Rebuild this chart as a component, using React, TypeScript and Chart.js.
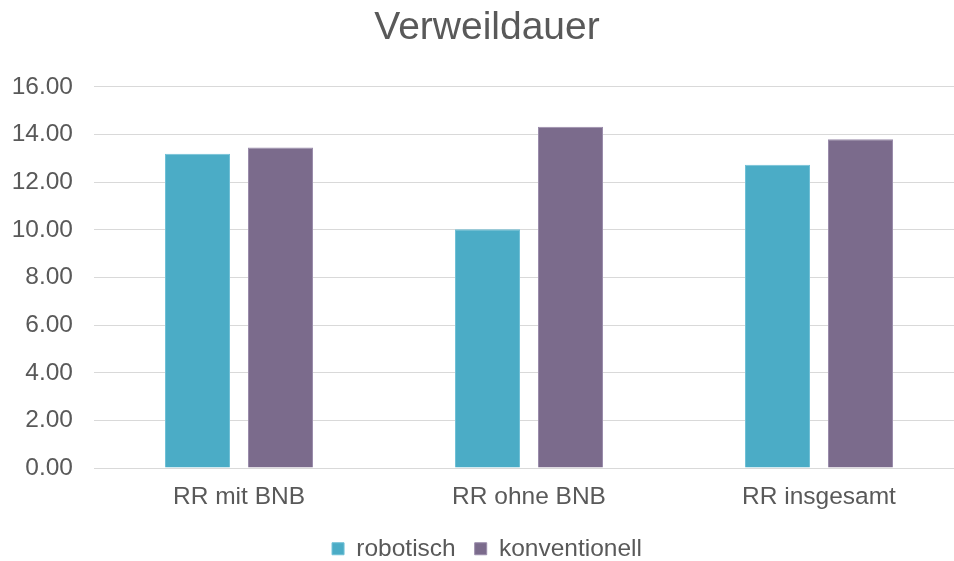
import React, { useEffect, useRef } from "react";
import { Chart, registerables } from "chart.js";

Chart.register(...registerables);

const categories = ["RR mit BNB", "RR ohne BNB", "RR insgesamt"];
const robotisch = [13.19, 10.02, 12.73];
const konventionell = [13.45, 14.32, 13.8];
const seriesNames = ["robotisch", "konventionell"];
const titleText = "Verweildauer";

const FONT = "'Liberation Sans', Arial, sans-serif";
const TEXT = "#595959";

export default function App() {
  const ref = useRef<HTMLCanvasElement | null>(null);

  useEffect(() => {
    document.body.style.margin = "0";
    const ctx = ref.current!.getContext("2d")!;
    const chart = new Chart(ctx, {
      type: "bar",
      data: {
        labels: categories,
        datasets: [
          {
            label: seriesNames[0],
            data: robotisch,
            backgroundColor: "#4bacc6",
            borderColor: "#6fc0d6",
            borderWidth: 1,
            categoryPercentage: 0.5724,
            barPercentage: 0.783,
          },
          {
            label: seriesNames[1],
            data: konventionell,
            backgroundColor: "#7b6b8c",
            borderColor: "#9a8cab",
            borderWidth: 1,
            categoryPercentage: 0.5724,
            barPercentage: 0.783,
          },
        ],
      },
      options: {
        responsive: false,
        animation: false,
        layout: { padding: { left: 10, right: 30, top: 0, bottom: -10 } },
        plugins: {
          title: {
            display: true,
            text: titleText,
            color: TEXT,
            font: { family: FONT, size: 39, weight: "normal" },
            padding: { top: 5, bottom: 35 },
          },
          legend: {
            position: "bottom",
            labels: {
              color: TEXT,
              font: { family: FONT, size: 24.5 },
              boxWidth: 12,
              boxHeight: 12,
              padding: 19,
            },
          },
          tooltip: { enabled: false },
        },
        scales: {
          x: {
            grid: { display: false },
            border: { display: true, color: "#d9d9d9", width: 1 },
            ticks: {
              color: TEXT,
              font: { family: FONT, size: 24.5 },
              padding: 6,
            },
          },
          y: {
            min: 0,
            max: 16,
            afterFit: (scale: any) => {
              scale.width = 84;
            },
            ticks: {
              stepSize: 2,
              color: TEXT,
              font: { family: FONT, size: 24.5 },
              padding: 21,
              callback: (v: any) => Number(v).toFixed(2),
            },
            grid: { color: "#d9d9d9", drawTicks: false, lineWidth: 1 },
            border: { display: false },
          },
        },
      },
    });
    return () => chart.destroy();
  }, []);

  return (
    <div style={{ position: "fixed", left: 0, top: 0, width: 954, height: 561, overflow: "hidden", background: "#fff" }}>
      <canvas ref={ref} width={994} height={561} style={{ display: "block" }} />
    </div>
  );
}
